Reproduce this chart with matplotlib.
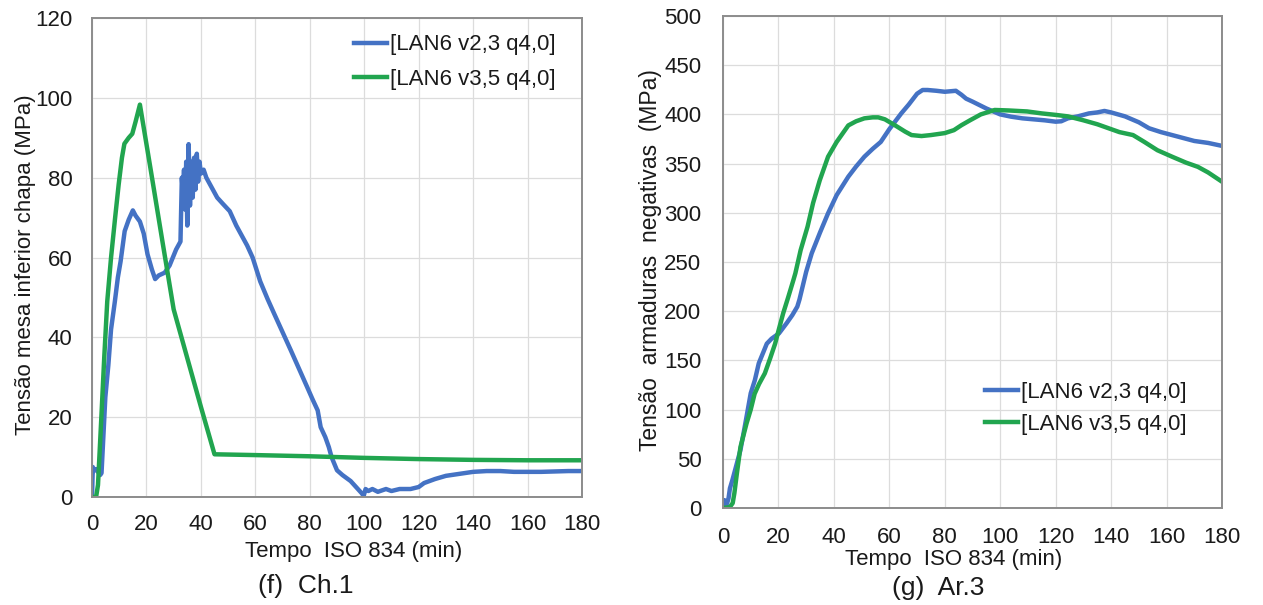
import matplotlib
matplotlib.use("Agg")
import matplotlib.pyplot as plt

# ---------------- data ----------------
series_labels = ["[LAN6 v2,3 q4,0]", "[LAN6 v3,5 q4,0]"]
x_ticks = [0, 20, 40, 60, 80, 100, 120, 140, 160, 180]
left_yticks = [0, 20, 40, 60, 80, 100, 120]
right_yticks = [0, 50, 100, 150, 200, 250, 300, 350, 400, 450, 500]

# (f) Ch.1 - blue series
ch1_blue_t = [0, 0.3, 0.6, 1.5, 2.5, 3.0, 3.5, 4.9, 6, 7,
              8.4, 9.5, 10.5, 12, 13.5, 15, 16, 17.6, 19, 20.4,
              22, 23.2, 24.5, 26.7, 28.5, 30.9, 32.5, 33.0, 33.4, 33.8,
              34.2, 34.6, 35.0, 35.5, 36.0, 36.5, 37.0, 37.5, 38, 38.5,
              39, 39.5, 40, 41, 42, 44, 46, 48, 50.6, 53,
              55, 57, 59, 61.8, 64.5, 67, 70, 73, 76, 79,
              81, 82.9, 84, 85.7, 87, 88, 90, 92, 95, 97,
              99, 99.8, 100.5, 101.5, 103, 105, 108, 110, 113, 117,
              120, 122, 126, 130, 135, 140, 145, 150, 155, 160,
              165, 170, 175, 180]
ch1_blue_v = [0, 7.5, 6.5, 7, 6, 5.5, 6, 25, 33, 42,
              49, 55, 59, 66.6, 69.5, 71.8, 70.5, 69, 66, 60.8,
              57, 54.6, 55.5, 56.2, 58, 62, 64, 80, 76, 82,
              72, 84, 68, 88.4, 73, 84, 75, 85, 77, 86,
              79, 84, 81, 82, 80, 77.5, 75, 73.5, 71.6, 68,
              65.5, 63, 60, 54, 49.6, 45.8, 41.3, 36.8, 32.2, 27.6,
              24.5, 21.7, 17.5, 15, 12.5, 10, 6.7, 5.5, 4, 2.5,
              1, 0.3, 2, 1.5, 2, 1.3, 2, 1.5, 2, 2,
              2.5, 3.5, 4.5, 5.3, 5.8, 6.3, 6.5, 6.5, 6.3, 6.3,
              6.3, 6.4, 6.5, 6.5]

# (f) Ch.1 - green series
ch1_green_t = [0, 1.5, 2.2, 3.5, 4.5, 5.6, 7, 8.5, 9.8, 11,
               11.9, 13.5, 14.8, 16, 17.6, 21.8, 26, 30, 35, 40,
               45, 60, 80, 100, 120, 140, 160, 180]
ch1_green_v = [0, 0, 3, 20.9, 35, 49, 60, 70, 78.3, 85,
               88.5, 90, 91, 94, 98.3, 81, 63.5, 47, 34.8, 22.6,
               10.7, 10.5, 10.2, 9.8, 9.5, 9.3, 9.2, 9.2]

# (g) Ar.3 - blue series
ar3_blue_t = [0, 0.5, 1, 1.5, 2, 2.5, 3.4, 4.5, 6.3, 8,
              10, 11.5, 12.9, 14.5, 15.8, 17.5, 20.2, 23, 25, 26.8,
              27.6, 30, 32, 35, 37.9, 41, 45.2, 48, 51, 54,
              56.9, 60, 64.3, 67, 70, 72, 73.8, 77, 80, 84,
              86, 87.7, 90, 95, 100, 103.9, 108, 112, 116, 120,
              122, 124.4, 128, 132, 135, 137.6, 140, 145, 150, 153.7,
              158, 162, 166, 170, 175, 180]
ar3_blue_v = [0, 8, 2, 5, 10, 20, 28.5, 40, 59, 85,
              116.6, 130, 147, 158, 167, 172, 177.5, 188, 196, 204.6,
              212, 240, 258.8, 280, 299.5, 318, 336.7, 347, 357, 365,
              372, 385, 401, 410, 421, 424.8, 424.8, 424, 423, 424,
              420, 416, 413, 406, 400, 397.7, 396, 395, 394, 392.6,
              393, 396, 398, 401, 402, 403.5, 402, 398, 392, 385.9,
              382, 379, 376, 373, 371, 368]

# (g) Ar.3 - green series
ar3_green_t = [0, 2.5, 3.5, 4.1, 5, 6.3, 8.5, 10, 11.4, 13,
               15.1, 17, 18.8, 20, 21.7, 23.5, 25.4, 26.1, 28, 30.5,
               32.5, 34.9, 37.9, 41, 45.2, 48, 51, 54, 56, 58.4,
               62, 65.7, 68, 71.6, 75, 80, 83.3, 86, 89.1, 93,
               98, 103, 109.7, 115, 120, 124.4, 130, 135, 139, 143,
               147.9, 152, 156.7, 162, 167, 171.3, 175, 180]
ar3_green_v = [0, 1, 5, 15, 35, 62, 86, 100, 116, 126,
               136.9, 152, 167, 180, 197.8, 214, 231.7, 238.5, 262, 285.9,
               310, 333, 357, 372, 388.8, 393, 396, 397, 397, 395,
               389, 382.5, 379, 378, 379, 381, 384, 389, 394, 400,
               404.5, 404, 403, 401, 399.5, 398, 394, 390, 386, 382,
               379, 372, 363.6, 357, 351, 346.7, 341, 331.6]

# ---------------- style ----------------
plt.rcParams['font.family'] = ['Liberation Sans', 'DejaVu Sans']
BLUE = '#4472C4'
GREEN = '#21A54F'
GRID = '#dcdcdc'
SPINE = '#8c8c8c'
TXT = '#1a1a1a'
TICK_FS = 16
LW = 3.2

W, H = 1263, 605
fig = plt.figure(figsize=(W / 100, H / 100), dpi=100)


def px_axes(x0, y0, x1, y1):
    return fig.add_axes([x0 / W, 1 - y1 / H, (x1 - x0) / W, (y1 - y0) / H])


def style(ax, yticks, ylim, xpad, ypad):
    ax.set_xlim(0, 180)
    ax.set_ylim(*ylim)
    ax.set_xticks(x_ticks)
    ax.set_yticks(yticks)
    ax.grid(True, color=GRID, linewidth=0.9)
    ax.set_axisbelow(True)
    for s in ax.spines.values():
        s.set_color(SPINE)
        s.set_linewidth(1.4)
    ax.tick_params(axis='x', length=0, pad=xpad, labelsize=TICK_FS, labelcolor=TXT)
    ax.tick_params(axis='y', length=0, pad=ypad, labelsize=TICK_FS, labelcolor=TXT)


# left panel
axL = px_axes(92, 18, 582, 497)
axL.plot(ch1_blue_t, ch1_blue_v, color=BLUE, lw=LW, label=series_labels[0])
axL.plot(ch1_green_t, ch1_green_v, color=GREEN, lw=LW, label=series_labels[1])
style(axL, left_yticks, (0, 120), 12.5, 14)
axL.set_xlabel("Tempo  ISO 834 (min)", fontsize=16, color=TXT, labelpad=4, x=0.534)
axL.set_ylabel("Tensão mesa inferior chapa (MPa)", fontsize=16, color=TXT)
axL.yaxis.set_label_coords(-0.115, 0.484)
axL.legend(loc='center left', bbox_to_anchor=(0.535, 0.908), frameon=False,
           fontsize=16, handlelength=1.5, handletextpad=0.1, labelspacing=0.6,
           borderpad=0, borderaxespad=0, labelcolor=TXT)

# right panel
axR = px_axes(723, 16, 1222, 508)
axR.plot(ar3_blue_t, ar3_blue_v, color=BLUE, lw=LW, label=series_labels[0])
axR.plot(ar3_green_t, ar3_green_v, color=GREEN, lw=LW, label=series_labels[1])
style(axR, right_yticks, (0, 500), 13.5, 15.5)
axR.set_xlabel("Tempo  ISO 834 (min)", fontsize=16, color=TXT, labelpad=1, x=0.462)
axR.set_ylabel("Tensão  armaduras  negativas  (MPa)", fontsize=16.5, color=TXT)
axR.yaxis.set_label_coords(-0.123, 0.504)
axR.legend(loc='center left', bbox_to_anchor=(0.525, 0.203), frameon=False,
           fontsize=16, handlelength=1.5, handletextpad=0.1, labelspacing=0.5,
           borderpad=0, borderaxespad=0, labelcolor=TXT)

# captions
fig.text(306 / W, 1 - 586 / H, "(f)  Ch.1", ha='center', va='center', fontsize=19, color=TXT)
fig.text(938 / W, 1 - 588 / H, "(g)  Ar.3", ha='center', va='center', fontsize=19, color=TXT)

fig.savefig("out.png", dpi=100)
